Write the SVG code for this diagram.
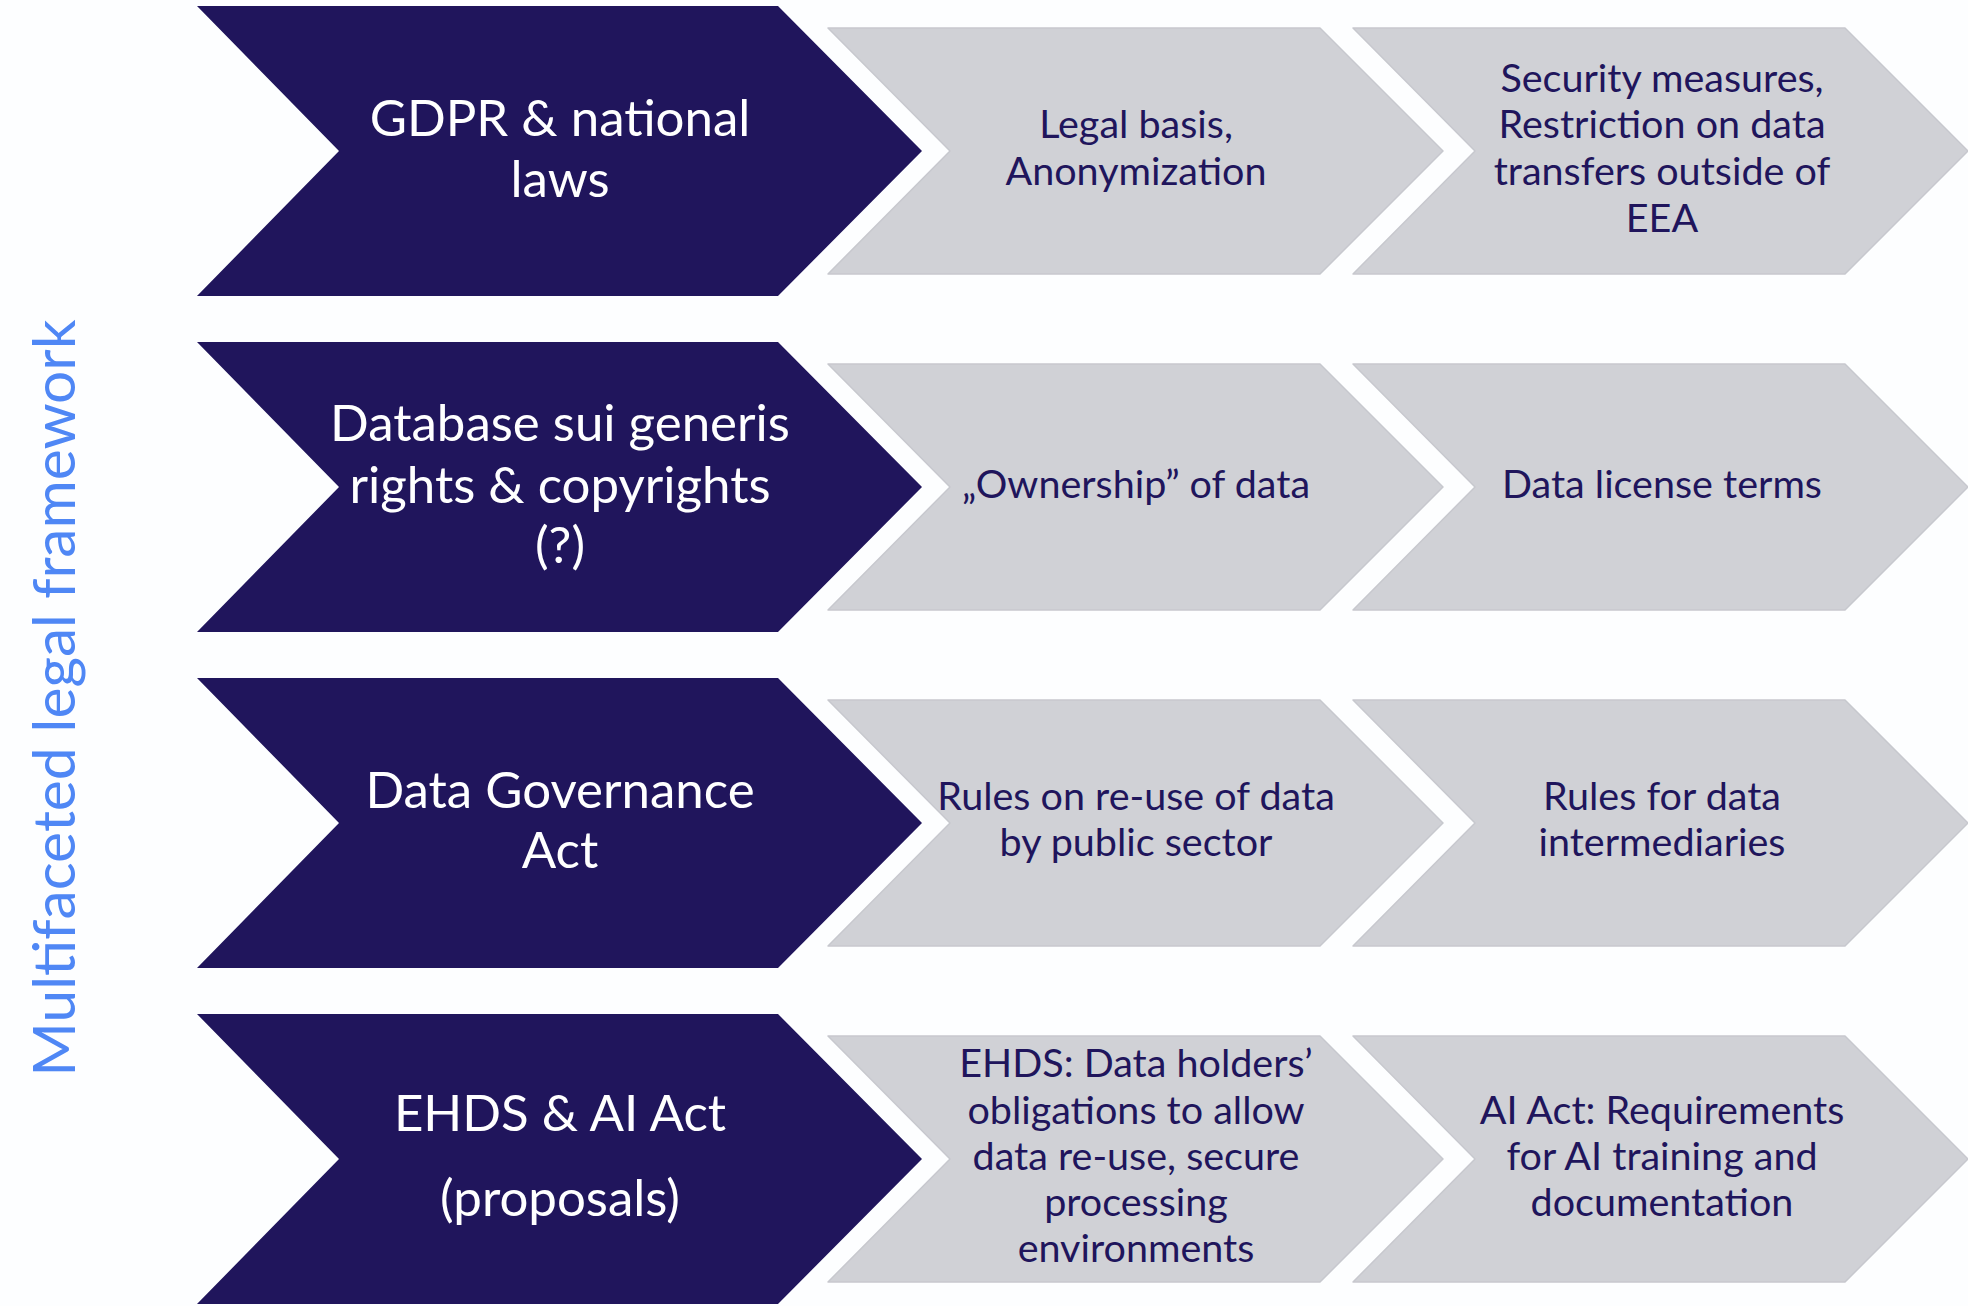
<svg xmlns="http://www.w3.org/2000/svg" width="1968" height="1306" viewBox="0 0 1968 1306">
<defs>
<style>
.dark{fill:#20155C;}
.grey{fill:#D0D1D6;stroke:#C7C8CE;stroke-width:1.5;stroke-linejoin:round;}
.dt{font-family:Lato,"Liberation Sans",sans-serif;font-size:51px;fill:#FFFFFF;text-anchor:middle;}
.gt{font-family:Lato,"Liberation Sans",sans-serif;font-size:39.5px;fill:#20155C;text-anchor:middle;}
.side{font-family:Lato,"Liberation Sans",sans-serif;font-size:58px;fill:#4F87F5;text-anchor:middle;}
</style>
</defs>
<rect width="1968" height="1306" fill="#FDFEFF"/>
<g id="side-label">
<text class="side" transform="translate(75,698) rotate(-90)" textLength="757" lengthAdjust="spacingAndGlyphs">Multifaceted legal framework</text>
</g>
<g id="connectors"></g>

<g id="row1-main">
<polygon class="dark" points="197,6 778,6 922,151 778,296 197,296 339,151"/>
<text class="dt" x="560" y="136">GDPR &amp; national</text>
<text class="dt" x="560" y="197">laws</text>
</g>
<g id="row1-a">
<polygon class="grey" points="828,28 1320,28 1443,151 1320,274 828,274 950,151"/>
<text class="gt" x="1136" y="138">Legal basis,</text>
<text class="gt" x="1136" y="185">Anonymization</text>
</g>
<g id="row1-b">
<polygon class="grey" points="1353,28 1845,28 1968,151 1845,274 1353,274 1475,151"/>
<text class="gt" x="1662" y="92">Security measures,</text>
<text class="gt" x="1662" y="138">Restriction on data</text>
<text class="gt" x="1662" y="185">transfers outside of</text>
<text class="gt" x="1662" y="232">EEA</text>
</g>

<g id="row2-main">
<polygon class="dark" points="197,342 778,342 922,487 778,632 197,632 339,487"/>
<text class="dt" x="560" y="441">Database sui generis</text>
<text class="dt" x="560" y="503">rights &amp; copyrights</text>
<text class="dt" x="560" y="563">(?)</text>
</g>
<g id="row2-a">
<polygon class="grey" points="828,364 1320,364 1443,487 1320,610 828,610 950,487"/>
<text class="gt" x="1136" y="498">„Ownership” of data</text>
</g>
<g id="row2-b">
<polygon class="grey" points="1353,364 1845,364 1968,487 1845,610 1353,610 1475,487"/>
<text class="gt" x="1662" y="498">Data license terms</text>
</g>

<g id="row3-main">
<polygon class="dark" points="197,678 778,678 922,823 778,968 197,968 339,823"/>
<text class="dt" x="560" y="808">Data Governance</text>
<text class="dt" x="560" y="868">Act</text>
</g>
<g id="row3-a">
<polygon class="grey" points="828,700 1320,700 1443,823 1320,946 828,946 950,823"/>
<text class="gt" x="1136" y="810">Rules on re-use of data</text>
<text class="gt" x="1136" y="856">by public sector</text>
</g>
<g id="row3-b">
<polygon class="grey" points="1353,700 1845,700 1968,823 1845,946 1353,946 1475,823"/>
<text class="gt" x="1662" y="810">Rules for data</text>
<text class="gt" x="1662" y="856">intermediaries</text>
</g>

<g id="row4-main">
<polygon class="dark" points="197,1014 778,1014 922,1159 778,1304 197,1304 339,1159"/>
<text class="dt" x="560" y="1131">EHDS &amp; AI Act</text>
<text class="dt" x="560" y="1216">(proposals)</text>
</g>
<g id="row4-a">
<polygon class="grey" points="828,1036 1320,1036 1443,1159 1320,1282 828,1282 950,1159"/>
<text class="gt" x="1136" y="1077">EHDS: Data holders’</text>
<text class="gt" x="1136" y="1124">obligations to allow</text>
<text class="gt" x="1136" y="1170">data re-use, secure</text>
<text class="gt" x="1136" y="1216">processing</text>
<text class="gt" x="1136" y="1262">environments</text>
</g>
<g id="row4-b">
<polygon class="grey" points="1353,1036 1845,1036 1968,1159 1845,1282 1353,1282 1475,1159"/>
<text class="gt" x="1662" y="1124">AI Act: Requirements</text>
<text class="gt" x="1662" y="1170">for AI training and</text>
<text class="gt" x="1662" y="1216">documentation</text>
</g>
</svg>
